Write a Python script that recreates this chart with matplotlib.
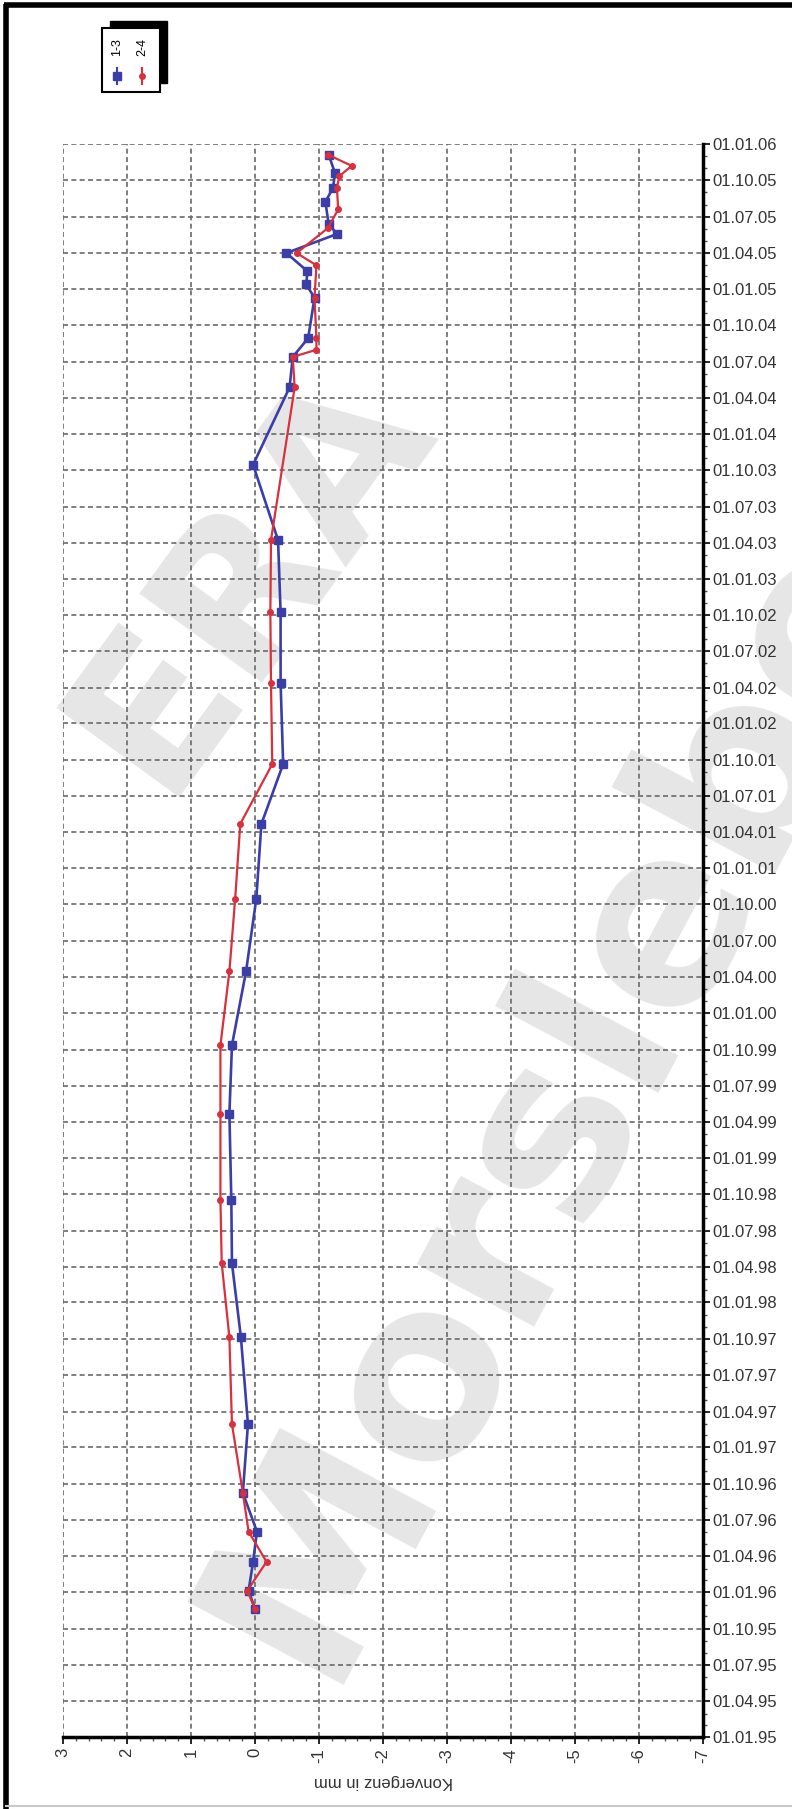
# Konvergenz 1-3 / 2-4, gedrehte Darstellung (Datum senkrecht)
import numpy as np
import pandas as pd
import matplotlib
matplotlib.use("Agg")
import matplotlib.pyplot as plt
import matplotlib.dates as mdates
from matplotlib.ticker import MultipleLocator, FuncFormatter
from matplotlib.lines import Line2D
from matplotlib.patches import Rectangle

plt.rcParams['font.family'] = ['Liberation Sans', 'DejaVu Sans']

# Messreihe 1-3
dates_13 = ['1995-11-20', '1996-01-05', '1996-03-18', '1996-06-02', '1996-09-08',
            '1997-02-28', '1997-10-05', '1998-04-10', '1998-09-16', '1999-04-22',
            '1999-10-12', '2000-04-15', '2000-10-15', '2001-04-22', '2001-09-20',
            '2002-04-12', '2002-10-08', '2003-04-08', '2003-10-15', '2004-04-27',
            '2004-07-13', '2004-08-29', '2004-12-09', '2005-01-12', '2005-02-14',
            '2005-04-01', '2005-05-19', '2005-06-14', '2005-08-08', '2005-09-13',
            '2005-10-20', '2005-12-05']
conv_13 = [0.0, 0.10, 0.03, -0.03, 0.19,
           0.11, 0.22, 0.36, 0.37, 0.40,
           0.36, 0.14, -0.02, -0.10, -0.44,
           -0.40, -0.40, -0.36, 0.03, -0.54,
           -0.59, -0.83, -0.93, -0.80, -0.82,
           -0.49, -1.28, -1.15, -1.10, -1.22,
           -1.25, -1.15]

# Messreihe 2-4
dates_24 = ['1995-11-20', '1996-01-05', '1996-03-18', '1996-06-02', '1996-09-08',
            '1997-02-28', '1997-10-05', '1998-04-10', '1998-09-16', '1999-04-22',
            '1999-10-12', '2000-04-15', '2000-10-15', '2001-04-22', '2001-09-20',
            '2002-04-12', '2002-10-08', '2003-04-08', '2004-04-27', '2004-07-13',
            '2004-07-31', '2004-08-29', '2004-12-09', '2005-03-01', '2005-04-01',
            '2005-06-03', '2005-07-20', '2005-09-13', '2005-10-12', '2005-11-07',
            '2005-12-05']
conv_24 = [0.0, 0.12, -0.18, 0.10, 0.19,
           0.36, 0.40, 0.52, 0.54, 0.54,
           0.54, 0.40, 0.31, 0.23, -0.27,
           -0.25, -0.24, -0.25, -0.62, -0.59,
           -0.96, -0.96, -0.93, -0.96, -0.65,
           -1.14, -1.30, -1.28, -1.32, -1.51,
           -1.14]

labels = ['1-3', '2-4']
blue = '#3a3ea6'
red = '#d8303c'

W, H = 792, 1809
fig = plt.figure(figsize=(W / 100, H / 100), dpi=100)

# Hintergrund: Wasserzeichen, Rahmen, Legende (Pixelkoordinaten)
bg = fig.add_axes([0, 0, 1, 1], zorder=0)
bg.set_xlim(0, W)
bg.set_ylim(H, 0)
bg.axis('off')
bg.text(250, 575, 'ERA', rotation=54, fontsize=150, fontweight='bold',
        color='#e6e6e6', ha='center', va='center', family='DejaVu Sans')
bg.text(322, 1684, 'Morsleben', rotation=62, fontsize=175, fontweight='bold',
        color='#e6e6e6', ha='left', va='baseline', rotation_mode='anchor',
        family='DejaVu Sans', clip_on=True)
bg.plot([6, 6], [4, H], color='black', lw=4, solid_capstyle='butt')
bg.plot([4, W], [5, 5], color='black', lw=4, solid_capstyle='butt')
bg.plot([6, W], [H - 3, H - 3], color='#c8c8c8', lw=1.5)

# Legende
bg.add_patch(Rectangle((110, 21), 57, 62, facecolor='black', edgecolor='black', zorder=3))
bg.add_patch(Rectangle((102, 28), 58, 64, facecolor='white', edgecolor='black', lw=1.5, zorder=4))
for xx, col, mk, ms, lab in [(117, blue, 's', 5.5, labels[0]), (142, red, 'o', 4, labels[1])]:
    bg.add_line(Line2D([xx, xx], [68, 84], color=col, lw=1.5, zorder=5))
    bg.add_line(Line2D([xx], [76], color=col, marker=mk, ms=ms, zorder=5))
    bg.text(xx, 47, lab, rotation=90, fontsize=9, ha='center', va='center', zorder=5)

# Diagramm
ax = fig.add_axes([63 / W, 72 / H, 640 / W, 1665 / H - 72 / H], zorder=1)
ax.set_facecolor('none')

y13 = mdates.date2num(pd.to_datetime(dates_13))
y24 = mdates.date2num(pd.to_datetime(dates_24))
ax.plot(conv_13, y13, '-s', color=blue, lw=1.9, ms=6, zorder=4)
ax.plot(conv_24, y24, '-o', color=red, lw=1.6, ms=4, zorder=5)

ax.set_xlim(3, -7)
ax.set_ylim(mdates.date2num(pd.Timestamp('1995-01-01')), mdates.date2num(pd.Timestamp('2006-01-01')))

ax.xaxis.set_major_locator(MultipleLocator(1))
ax.xaxis.set_minor_locator(MultipleLocator(0.2))
ax.xaxis.set_major_formatter(FuncFormatter(lambda v, p: '%d' % round(v)))
ax.yaxis.set_major_locator(mdates.MonthLocator(bymonth=[1, 4, 7, 10]))
ax.yaxis.set_minor_locator(mdates.MonthLocator())
ax.yaxis.set_major_formatter(mdates.DateFormatter('%d.%m.%y'))
ax.yaxis.tick_right()

ax.tick_params(axis='x', which='major', length=5, width=1.2, labelsize=12,
               labelrotation=90, labelcolor='#333333', pad=3)
ax.tick_params(axis='y', which='major', length=5, width=1.2, labelsize=12,
               labelcolor='#333333', pad=2)
ax.tick_params(which='minor', length=3, width=1, color='#555555')
for lab in ax.get_xticklabels():
    lab.set_va('top')

for s in ['top', 'left']:
    ax.spines[s].set_visible(False)
for s in ['right', 'bottom']:
    ax.spines[s].set_linewidth(2.5)

ax.grid(True, which='major', ls=(0, (3, 2)), color='#6a6a6a', lw=1.2)
ax.set_axisbelow(True)

ax.set_xlabel('Konvergenz in mm', fontsize=12, rotation=180, color='#333333', labelpad=8)

fig.savefig('out.png', dpi=100)
